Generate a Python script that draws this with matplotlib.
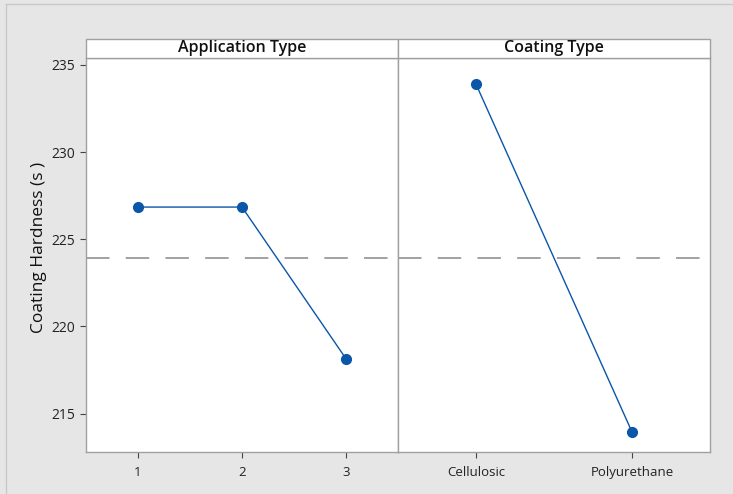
import matplotlib.pyplot as plt
from matplotlib.patches import Rectangle
from matplotlib.lines import Line2D

# main effects data (means)
app_levels = ['1', '2', '3']
app_means = [226.85, 226.85, 218.15]
coat_levels = ['Cellulosic', 'Polyurethane']
coat_means = [233.9, 213.95]
grand_mean = 223.95

yticks = [215, 220, 225, 230, 235]
panel_titles = ['Application Type', 'Coating Type']

plt.rcParams['font.family'] = ['Open Sans', 'DejaVu Sans']

blue = '#0a56a8'
edge = '#a0a0a0'

fig = plt.figure(figsize=(7.33, 4.94), dpi=100)
fig.patch.set_facecolor('#e6e6e6')
# thin frame (left and top only) around the graph window
fx, fy = 6 / 733, 1 - 4.5 / 494
fig.lines.append(Line2D([fx, fx], [0, fy], transform=fig.transFigure,
                        color='#c8c8c8', lw=1))
fig.lines.append(Line2D([fx, 1], [fy, fy], transform=fig.transFigure,
                        color='#c8c8c8', lw=1))

left, mid, right = 86 / 733, 398 / 733, 710 / 733
bottom, top = 1 - 452 / 494, 1 - 58 / 494
strip_h = 19 / 494

ax1 = fig.add_axes([left, bottom, mid - left, top - bottom])
ax2 = fig.add_axes([mid, bottom, right - mid, top - bottom], sharey=ax1)

for ax, levels, means, title in [(ax1, app_levels, app_means, panel_titles[0]),
                                 (ax2, coat_levels, coat_means, panel_titles[1])]:
    x = list(range(1, len(levels) + 1))
    ax.axhline(grand_mean, color='#9a9a9a', lw=1.3, dashes=(13, 9), zorder=1)
    ax.plot(x, means, color=blue, lw=1, marker='o', ms=7,
            mfc=blue, mec=blue, zorder=3)
    ax.set_xticks(x)
    ax.set_xticklabels(levels)
    ax.set_xlim(0.5, len(levels) + 0.5)
    for s in ax.spines.values():
        s.set_color(edge)
        s.set_linewidth(1)
    ax.tick_params(colors='#444444', labelcolor='#222222', labelsize=10,
                   length=4, width=0.8)
    ax.tick_params(axis='x', pad=6, labelsize=9.5)
    # header strip
    pos = ax.get_position()
    fig.patches.append(Rectangle((pos.x0, pos.y1), pos.width, strip_h,
                                 transform=fig.transFigure, facecolor='white',
                                 edgecolor=edge, lw=1))
    fig.text(pos.x0 + pos.width / 2, pos.y1 + strip_h / 2, title,
             ha='center', va='center', fontsize=11.5, color='#111111',
             fontweight='semibold')

ax1.set_ylim(212.8, 235.4)
ax1.set_yticks(yticks)
ax1.set_ylabel('Coating Hardness (s )', fontsize=12.5, color='#111111',
               fontweight='medium')
ax1.yaxis.set_label_coords(-0.125, 0.52)
ax2.tick_params(axis='y', left=False, labelleft=False)

fig.savefig('out.png', dpi=100, facecolor=fig.get_facecolor())
